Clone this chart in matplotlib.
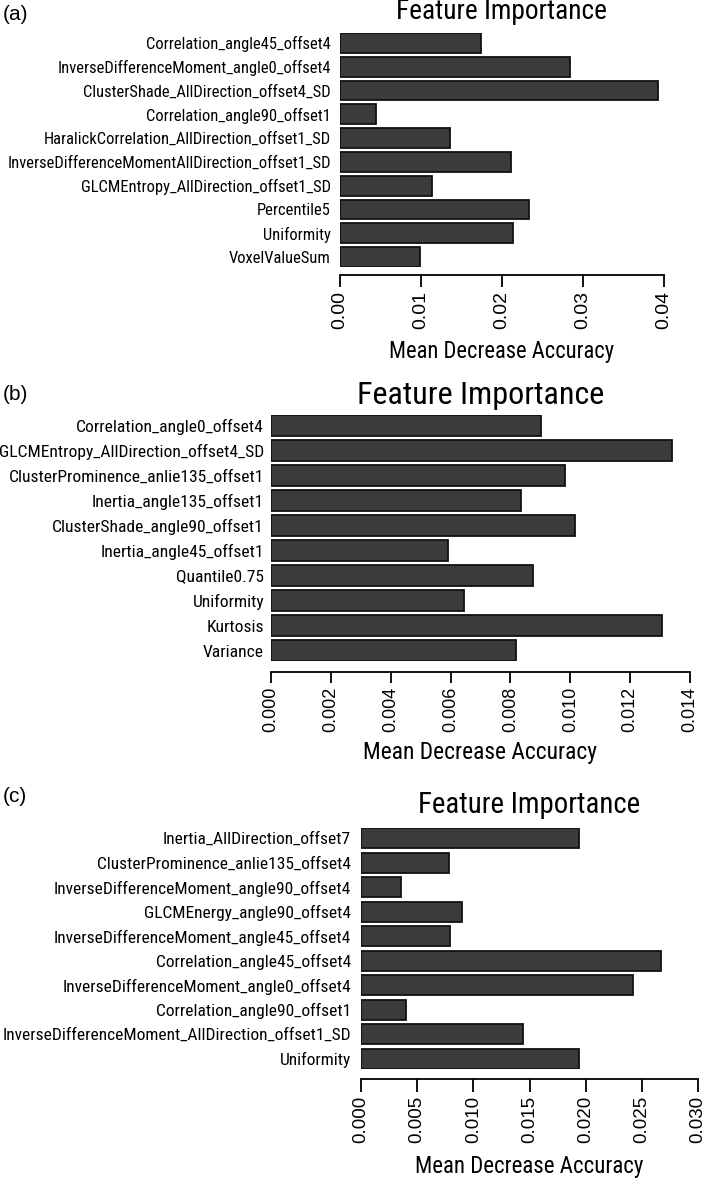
import matplotlib
matplotlib.use("Agg")
import matplotlib.pyplot as plt
from matplotlib import font_manager
import numpy as np

W, H = 709, 1181
fig = plt.figure(figsize=(W / 100, H / 100), dpi=100)

have = {f.name for f in font_manager.fontManager.ttflist}
narrow = [n for n in ["Liberation Sans Narrow", "Roboto Condensed", "DejaVu Sans Condensed",
                      "Open Sans Condensed", "Roboto", "Liberation Sans"] if n in have]
NARROW = narrow[:1] + ["DejaVu Sans"]
PLAIN = ["Liberation Sans", "DejaVu Sans"]

# panel (a)
labels_a = ["Correlation_angle45_offset4", "InverseDifferenceMoment_angle0_offset4",
            "ClusterShade_AllDirection_offset4_SD", "Correlation_angle90_offset1",
            "HaralickCorrelation_AllDirection_offset1_SD",
            "InverseDifferenceMomentAllDirection_offset1_SD",
            "GLCMEntropy_AllDirection_offset1_SD", "Percentile5", "Uniformity", "VoxelValueSum"]
values_a = [0.0174, 0.0284, 0.0392, 0.0045, 0.0136, 0.0211, 0.0114, 0.0233, 0.0214, 0.0099]
ticks_a = [0.00, 0.01, 0.02, 0.03, 0.04]

# panel (b)
labels_b = ["Correlation_angle0_offset4", "GLCMEntropy_AllDirection_offset4_SD",
            "ClusterProminence_anlie135_offset1", "Inertia_angle135_offset1",
            "ClusterShade_angle90_offset1", "Inertia_angle45_offset1", "Quantile0.75",
            "Uniformity", "Kurtosis", "Variance"]
values_b = [0.00903, 0.01339, 0.00984, 0.00835, 0.01017, 0.00593, 0.00876, 0.00646, 0.01305, 0.00817]
ticks_b = [0.000, 0.002, 0.004, 0.006, 0.008, 0.010, 0.012, 0.014]

# panel (c)
labels_c = ["Inertia_AllDirection_offset7", "ClusterProminence_anlie135_offset4",
            "InverseDifferenceMoment_angle90_offset4", "GLCMEnergy_angle90_offset4",
            "InverseDifferenceMoment_angle45_offset4", "Correlation_angle45_offset4",
            "InverseDifferenceMoment_angle0_offset4", "Correlation_angle90_offset1",
            "InverseDifferenceMoment_AllDirection_offset1_SD", "Uniformity"]
values_c = [0.0194, 0.00779, 0.00357, 0.00896, 0.00791, 0.0267, 0.0242, 0.0040, 0.01438, 0.0194]
ticks_c = [0.000, 0.005, 0.010, 0.015, 0.020, 0.025, 0.030]

renderer = fig.canvas.get_renderer()


def fit_size(text, width_px, family):
    # font size (pt) that makes `text` about width_px wide
    t = fig.text(0, 0, text, family=family, fontsize=10)
    w = t.get_window_extent(renderer).width
    t.remove()
    return 10 * width_px / w


# layout in pixels
panels = [
    dict(tag="(a)", labels=labels_a, vals=values_a, ticks=ticks_a, fmt="{:.2f}",
         l=340, r=664, t=33, b=267, gap=8, tick_len=12, lab_w=321, lab_pad=9,
         tag_y=15, title_base=19, title_w=210, xl_y=352, xl_w=223, tick_fs=14),
    dict(tag="(b)", labels=labels_b, vals=values_b, ticks=ticks_b, fmt="{:.3f}",
         l=271, r=690, t=415, b=661, gap=10.5, tick_len=11, lab_w=263, lab_pad=7,
         tag_y=394, title_base=404, title_w=246, xl_y=752, xl_w=233, tick_fs=13),
    dict(tag="(c)", labels=labels_c, vals=values_c, ticks=ticks_c, fmt="{:.3f}",
         l=361, r=698, t=828, b=1069, gap=10, tick_len=13, lab_w=344, lab_pad=10,
         tag_y=797, title_base=813, title_w=220, xl_y=1167, xl_w=227, tick_fs=13.5),
]

hb = 1 / 1.2  # R barplot, space = 0.2

for p in panels:
    l, r, t, b = p["l"], p["r"], p["t"], p["b"]
    vals, ticks, labels = p["vals"], p["ticks"], p["labels"]
    ax = fig.add_axes([l / W, 1 - b / H, (r - l) / W, (b - t) / H])
    y = np.arange(len(vals))
    ax.barh(y, vals, height=hb, color="#3b3b3b", edgecolor="#111111", linewidth=1.3)
    ax.set_xlim(0, ticks[-1])
    ax.set_ylim(len(vals) - 1 + hb / 2, -hb / 2)
    for s in ["top", "right", "left"]:
        ax.spines[s].set_visible(False)
    ax.spines["bottom"].set_position(("outward", p["gap"] * 0.72))
    ax.spines["bottom"].set_bounds(0, ticks[-1])
    ax.spines["bottom"].set_linewidth(1.3)
    ax.set_xticks(ticks, [p["fmt"].format(v) for v in ticks], rotation=90,
                  family=PLAIN, fontsize=p["tick_fs"])
    ax.tick_params(axis="x", direction="out", length=p["tick_len"] * 0.72, width=1.3, pad=3)

    longest = max(labels, key=len)
    lab_fs = fit_size(longest, p["lab_w"], NARROW)
    ax.set_yticks(y, labels, family=NARROW, fontsize=lab_fs)
    ax.tick_params(axis="y", length=0, pad=p["lab_pad"] * 0.72)

    cx = (l + r) / 2 / W
    fig.text(cx, 1 - p["title_base"] / H, "Feature Importance", ha="center", va="baseline",
             family=NARROW, fontsize=fit_size("Feature Importance", p["title_w"], NARROW))
    fig.text(cx, 1 - p["xl_y"] / H, "Mean Decrease Accuracy", ha="center", va="center",
             family=NARROW, fontsize=fit_size("Mean Decrease Accuracy", p["xl_w"], NARROW))
    fig.text(3 / W, 1 - p["tag_y"] / H, p["tag"], ha="left", va="center",
             family=PLAIN, fontsize=15)

fig.savefig("out.png", dpi=100)
